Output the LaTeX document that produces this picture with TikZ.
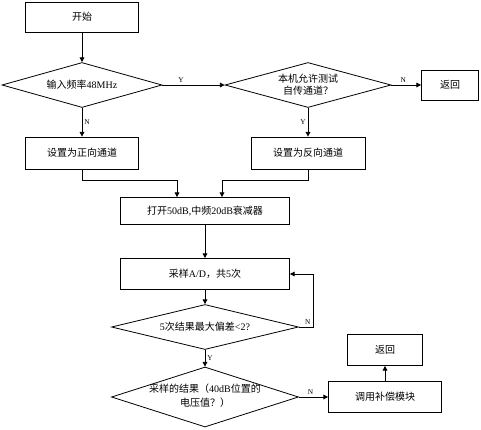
\documentclass[tikz,border=0pt]{standalone}
\usepackage{fontspec}
\setmainfont{Liberation Serif}
\newfontfamily\zh{Noto Sans CJK SC}
\newcommand{\lat}[1]{{\rmfamily #1}}
\usetikzlibrary{arrows.meta,shapes.geometric}

\begin{document}
\begin{tikzpicture}[x=0.75pt,y=-0.75pt,line width=0.6pt,
 stepbox/.style 2 args={rectangle,draw,minimum width=#1*0.75pt,minimum height=#2*0.75pt,inner sep=1pt,font=\zh\fontsize{7.5}{9}\selectfont},
 decision/.style 2 args={diamond,draw,aspect=3.6,inner sep=0pt,minimum width=#1*0.75pt,minimum height=#2*0.75pt,align=center,font=\zh\fontsize{7.5}{9}\selectfont},
 flow/.style={-{Triangle[length=3.5pt,width=3.5pt]}},
 yn/.style={font=\fontsize{5.5}{6}\selectfont,inner sep=1.5pt}]
\useasboundingbox (0,0) rectangle (481,429);

% Input check and channel selection.
\node[stepbox={113}{30}] (start) at (82,17) {开始};
\node[decision={160}{45}] (inputchk) at (82,85) {输入频率\lat{48MHz}};
\node[decision={166}{45}] (selfchk) at (308,85) {本机允许测试\\自传通道？};
\node[stepbox={57}{30}] (ret1) at (450,85) {返回};
\node[stepbox={113}{32}] (fwd) at (82,153) {设置为正向通道};
\node[stepbox={114}{32}] (rev) at (308,153) {设置为反向通道};

% Attenuator, sampling and the two checks.
\node[stepbox={169}{27}] (atten) at (205,211) {打开\lat{50dB,}中频\lat{20dB}衰减器};
\node[stepbox={169}{31}] (sample) at (205,274) {采样\lat{A/D}，共\lat{5}次};
\node[decision={187}{45}] (devchk) at (205,327) {\lat{5}次结果最大偏差\lat{<2?}};
\node[decision={187}{60}] (resultchk) at (205,397) {\makebox[0pt]{\begin{tabular}{@{}c@{}}采样的结果（\lat{40dB}位置的\\[1pt]电压值？）\end{tabular}}};
\node[stepbox={113}{31}] (comp) at (385,397) {调用补偿模块};
\node[stepbox={75}{31}] (ret2) at (385,350) {返回};

\coordinate (joinL) at (177,180);
\coordinate (joinR) at (222,180);

\draw[flow] (start) -- (inputchk);
\draw[flow] (inputchk) -- node[yn,above,pos=0.3] {Y} (selfchk);
\draw[flow] (selfchk) -- node[yn,above,pos=0.4] {N} (ret1);
\draw[flow] (inputchk) -- node[yn,right] {N} (fwd);
\draw[flow] (selfchk) -- node[yn,left] {Y} (rev);
\draw[flow] (fwd.south) |- (joinL) -- (joinL |- atten.north);
\draw[flow] (rev.south) |- (joinR) -- (joinR |- atten.north);
\draw[flow] (atten) -- (sample);
\draw[flow] (sample) -- (devchk);
\draw[flow] (devchk.east) -- ++(14,0) node[yn,above left] {N} |- (sample.east);
\draw[flow] (devchk) -- node[yn,right] {Y} (resultchk);
\draw[flow] (resultchk) -- node[yn,above,pos=0.4] {N} (comp);
\draw[flow] (comp) -- (ret2);
\end{tikzpicture}
\end{document}
